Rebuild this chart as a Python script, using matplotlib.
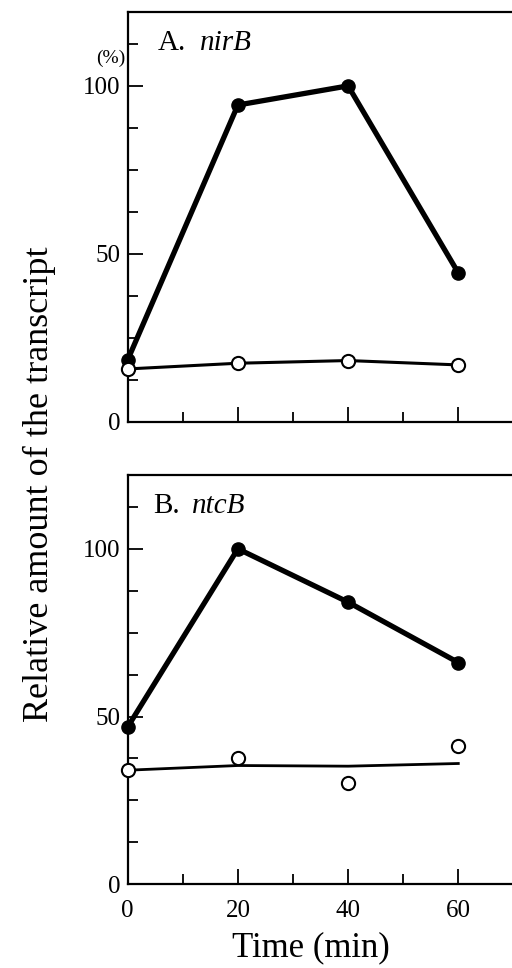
import matplotlib.pyplot as plt
from matplotlib.ticker import MultipleLocator

plt.rcParams["font.family"] = ["Liberation Serif", "DejaVu Serif"]

time = [0, 20, 40, 60]

# A. nirB
nirb_filled = [18.4, 94.3, 100, 44.3]
nirb_open = [15.7, 17.4, 18.2, 16.9]

# B. ntcB
ntcb_filled = [46.9, 100, 84.1, 66.1]
ntcb_open = [34.0, 37.7, 30.1, 41.2]
ntcb_fit = [34.0, 35.4, 35.2, 36.0]

xticks = [0, 20, 40, 60]
yticks = [0, 50, 100]

fig = plt.figure(figsize=(5.12, 9.68), dpi=100)

px_per_unit = 5.51 / 512
ax_w = 74 * px_per_unit
ax_top = fig.add_axes([0.2494, 0.5644, ax_w, 0.4232])
ax_bot = fig.add_axes([0.2494, 0.0865, ax_w, 0.4228])


def style(ax, show_xlabels):
    ax.set_xlim(0, 74)
    ax.set_ylim(0, 122)
    ax.set_xticks(xticks)
    ax.xaxis.set_minor_locator(MultipleLocator(10))
    ax.set_yticks(yticks)
    ax.yaxis.set_minor_locator(MultipleLocator(12.5))
    ax.tick_params(which="major", direction="in", length=11, width=1.3, labelsize=18)
    ax.tick_params(which="minor", direction="in", length=7, width=1.3)
    ax.tick_params(axis="y", pad=5)
    ax.tick_params(axis="x", pad=11)
    if not show_xlabels:
        ax.set_xticklabels([])
    for sp in ax.spines.values():
        sp.set_linewidth(1.6)
    ax.spines["right"].set_visible(False)


style(ax_top, False)
style(ax_bot, True)

ax_top.plot(time, nirb_filled, "-o", color="black", lw=3.8, ms=9.5, zorder=3, clip_on=False)
ax_top.plot(time, nirb_open, "-o", color="black", lw=2.2, ms=9.5,
            mfc="white", mec="black", mew=1.5, zorder=4, clip_on=False)
ax_top.text(0.074, 0.955, "A.", transform=ax_top.transAxes, fontsize=21, va="top")
ax_top.text(0.177, 0.955, "nirB", transform=ax_top.transAxes, fontsize=21, va="top", style="italic")
ax_top.text(-0.005, 0.888, "(%)", transform=ax_top.transAxes, fontsize=14, ha="right", va="center")

ax_bot.plot(time, ntcb_filled, "-o", color="black", lw=3.8, ms=9.5, zorder=3, clip_on=False)
ax_bot.plot(time, ntcb_fit, "-", color="black", lw=2.0, zorder=2)
ax_bot.plot(time, ntcb_open, "o", ms=9.5, mfc="white", mec="black", mew=1.5, zorder=4, clip_on=False)
ax_bot.text(0.062, 0.955, "B.", transform=ax_bot.transAxes, fontsize=21, va="top")
ax_bot.text(0.158, 0.955, "ntcB", transform=ax_bot.transAxes, fontsize=21, va="top", style="italic")

fig.text(0.607, 0.004, "Time (min)", fontsize=25, ha="center", va="bottom")
fig.text(0.078, 0.5, "Relative amount of the transcript", rotation=90,
         fontsize=26, ha="center", va="center")

fig.savefig("out.png", dpi=100)
